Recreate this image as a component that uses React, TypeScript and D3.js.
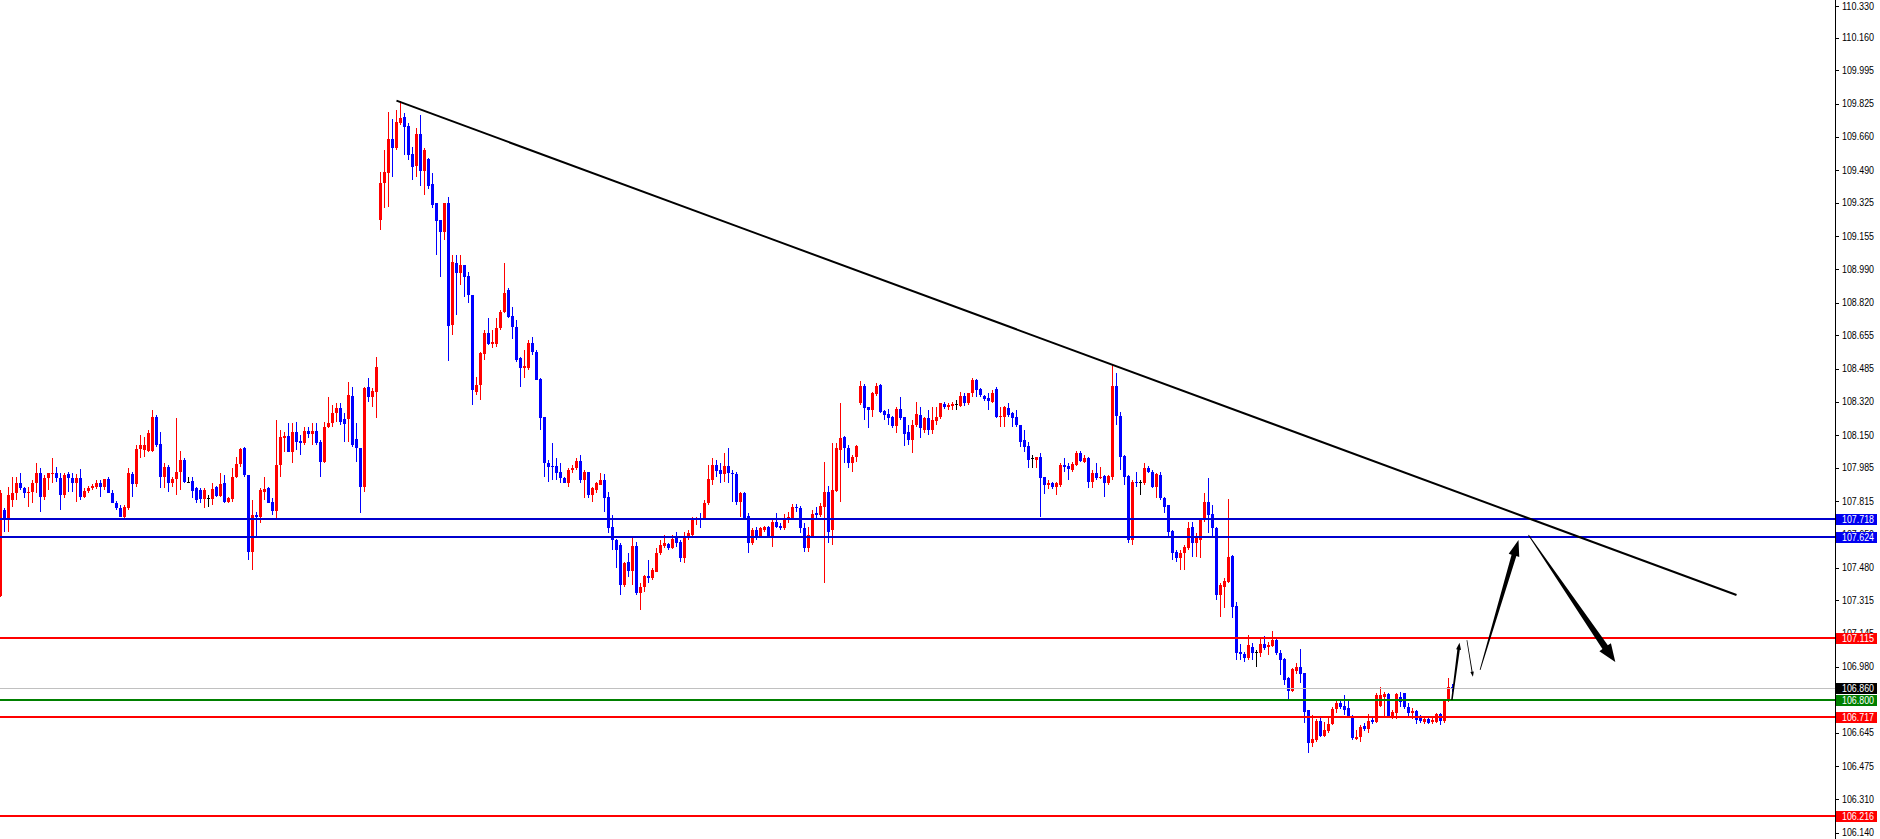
import React from "react";
import * as d3 from "d3";

// ---------- DATA (USDJPY-like candles) ----------
const opens = [
107.327,107.762,107.711,107.812,107.848,107.898,107.873,107.848,107.853,107.898,
107.949,107.827,107.923,107.944,107.949,107.923,107.838,107.944,107.923,107.898,
107.923,107.827,107.858,107.873,107.878,107.898,107.878,107.918,107.848,107.797,
107.772,107.727,107.772,107.944,107.893,108.070,108.065,108.060,108.060,108.232,
108.095,107.929,107.979,107.898,107.918,107.954,108.014,107.903,107.908,107.873,
107.863,107.817,107.822,107.817,107.878,107.832,107.898,107.802,107.817,107.929,
107.994,108.075,107.939,107.549,107.736,107.727,107.853,107.873,107.802,107.757,
107.989,108.126,108.136,108.055,108.156,108.111,108.101,108.161,108.146,108.161,
108.106,108.004,108.182,108.202,108.252,108.277,108.222,108.222,108.338,108.121,
108.075,107.878,108.383,108.333,108.358,109.228,109.415,109.465,109.637,109.592,
109.718,109.748,109.703,109.561,109.501,109.662,109.476,109.536,109.410,109.314,
109.228,109.167,109.314,108.697,109.011,108.960,109.000,108.945,108.849,108.358,
108.394,108.550,108.656,108.601,108.601,108.682,108.763,108.874,108.742,108.687,
108.530,108.479,108.479,108.606,108.560,108.424,108.232,107.999,107.984,107.984,
107.954,107.923,107.898,107.964,107.974,108.009,107.913,107.954,107.838,107.863,
107.888,107.913,107.827,107.676,107.610,107.585,107.383,107.499,107.453,107.580,
107.342,107.372,107.428,107.418,107.448,107.544,107.580,107.590,107.570,107.620,
107.600,107.519,107.625,107.636,107.716,107.721,107.716,107.797,107.913,107.989,
107.964,107.944,107.984,107.949,107.944,107.802,107.848,107.731,107.595,107.661,
107.625,107.661,107.676,107.625,107.701,107.681,107.671,107.716,107.721,107.777,
107.772,107.671,107.570,107.625,107.747,107.736,107.777,107.853,107.661,107.858,
108.065,108.131,108.075,107.999,108.029,108.303,108.389,108.282,108.267,108.348,
108.394,108.262,108.247,108.232,108.187,108.272,108.232,108.156,108.116,108.192,
108.242,108.166,108.227,108.166,108.212,108.232,108.298,108.282,108.288,108.298,
108.288,108.338,108.303,108.353,108.419,108.373,108.338,108.328,108.308,108.373,
108.232,108.232,108.277,108.252,108.232,108.192,108.116,108.085,108.024,108.014,
108.029,107.929,107.888,107.898,107.878,107.888,107.989,107.984,107.964,107.989,
108.050,108.004,108.024,107.903,107.949,107.923,107.934,107.898,107.929,108.389,
108.237,108.034,107.934,107.610,107.903,107.903,107.898,107.974,107.954,107.878,
107.939,107.822,107.787,107.656,107.549,107.519,107.544,107.570,107.676,107.595,
107.610,107.711,107.802,107.742,107.671,107.332,107.372,107.398,107.529,107.277,
107.044,107.034,107.013,107.069,107.044,107.039,107.084,107.069,107.074,107.104,
107.039,107.008,106.912,106.846,106.948,106.968,106.938,106.751,106.584,106.599,
106.695,106.619,106.644,106.680,106.756,106.786,106.771,106.761,106.716,106.604,
106.614,106.670,106.654,106.700,106.690,106.771,106.816,106.832,106.716,106.736,
106.816,106.837,106.766,106.736,106.746,106.710,106.690,106.705,106.690,106.690,
106.731,106.695,106.806,106.867];

const highs = [
107.863,107.772,107.878,107.929,107.929,107.949,107.878,107.878,107.913,107.999,
107.974,107.939,107.949,108.024,107.979,107.949,107.949,107.954,107.949,107.944,
107.969,107.873,107.883,107.893,107.913,107.913,107.918,107.929,107.863,107.807,
107.787,107.787,107.974,107.954,108.090,108.141,108.131,108.166,108.267,108.242,
108.156,107.999,107.989,107.929,108.227,108.060,108.024,107.929,107.929,107.878,
107.873,107.873,107.838,107.898,107.883,107.949,107.939,107.827,107.974,108.029,
108.075,108.080,107.939,107.812,107.752,107.873,107.929,107.878,107.822,108.217,
108.166,108.156,108.202,108.202,108.207,108.141,108.182,108.182,108.202,108.202,
108.116,108.207,108.333,108.293,108.303,108.303,108.252,108.409,108.383,108.202,
108.075,108.383,108.429,108.378,108.535,109.470,109.582,109.774,109.738,109.784,
109.829,109.769,109.718,109.597,109.693,109.758,109.592,109.541,109.465,109.314,
109.228,109.314,109.344,109.051,109.051,109.051,109.000,108.965,108.849,108.434,
108.560,108.672,108.732,108.672,108.732,108.773,109.011,108.884,108.788,108.722,
108.535,108.571,108.621,108.636,108.571,108.429,108.232,108.014,108.100,108.024,
107.999,107.929,107.974,107.989,108.024,108.040,107.964,107.954,107.878,107.903,
107.949,107.944,107.853,107.736,107.615,107.595,107.499,107.544,107.625,107.600,
107.392,107.433,107.509,107.468,107.570,107.610,107.636,107.595,107.636,107.651,
107.610,107.651,107.661,107.727,107.727,107.747,107.812,107.989,108.024,108.014,
107.999,108.050,108.075,107.964,107.954,107.853,107.853,107.747,107.671,107.676,
107.676,107.681,107.681,107.711,107.747,107.696,107.742,107.752,107.792,107.792,
107.782,107.696,107.676,107.762,107.777,107.797,108.004,107.883,108.100,108.100,
108.303,108.136,108.090,108.040,108.090,108.414,108.399,108.282,108.358,108.404,
108.399,108.267,108.272,108.237,108.282,108.333,108.232,108.192,108.217,108.308,
108.282,108.232,108.267,108.282,108.282,108.303,108.308,108.303,108.308,108.318,
108.358,108.353,108.353,108.429,108.424,108.378,108.343,108.353,108.368,108.383,
108.282,108.288,108.303,108.257,108.267,108.192,108.166,108.106,108.040,108.029,
108.050,107.929,107.913,107.903,107.903,107.999,108.024,107.999,108.004,108.060,
108.060,108.040,108.029,107.964,107.999,107.979,107.939,107.939,108.494,108.454,
108.257,108.040,107.939,107.913,107.954,107.913,107.999,107.984,107.964,107.949,
107.954,107.827,107.787,107.661,107.559,107.559,107.585,107.701,107.701,107.646,
107.721,107.848,107.923,107.787,107.676,107.393,107.418,107.817,107.534,107.297,
107.084,107.044,107.130,107.089,107.054,107.115,107.125,107.094,107.150,107.115,
107.054,107.013,106.917,106.963,106.988,107.059,106.938,106.751,106.726,106.705,
106.716,106.690,106.710,106.766,106.801,106.801,106.827,106.801,106.725,106.649,
106.675,106.685,106.731,106.710,106.837,106.867,106.841,106.837,106.751,106.837,
106.841,106.837,106.786,106.761,106.751,106.725,106.716,106.710,106.710,106.736,
106.736,106.806,106.912,106.882];

const lows = [
107.322,107.651,107.651,107.777,107.812,107.863,107.822,107.777,107.797,107.848,
107.752,107.812,107.863,107.898,107.903,107.762,107.822,107.853,107.853,107.802,
107.812,107.822,107.848,107.863,107.868,107.827,107.863,107.848,107.797,107.762,
107.727,107.721,107.762,107.827,107.878,108.024,108.029,108.055,108.055,108.080,
107.873,107.873,107.853,107.878,107.838,107.863,107.898,107.898,107.822,107.797,
107.797,107.772,107.777,107.787,107.827,107.827,107.797,107.797,107.802,107.923,
107.979,107.929,107.509,107.458,107.621,107.696,107.812,107.797,107.736,107.711,
107.929,108.055,108.055,107.999,108.065,108.040,108.090,108.126,108.090,108.090,
107.929,107.999,108.177,108.182,108.207,108.192,108.106,108.106,108.080,108.004,
107.746,107.853,108.308,108.282,108.227,109.177,109.288,109.293,109.445,109.582,
109.708,109.556,109.531,109.430,109.445,109.400,109.354,109.384,109.288,109.051,
108.940,109.127,108.515,108.646,108.747,108.899,108.838,108.808,108.293,108.343,
108.318,108.520,108.596,108.581,108.586,108.672,108.757,108.732,108.626,108.510,
108.383,108.429,108.469,108.545,108.419,108.166,107.929,107.903,107.913,107.913,
107.898,107.898,107.878,107.949,107.964,107.898,107.822,107.822,107.802,107.848,
107.888,107.752,107.646,107.559,107.468,107.332,107.372,107.423,107.383,107.332,
107.256,107.347,107.393,107.408,107.448,107.534,107.570,107.559,107.564,107.575,
107.499,107.494,107.610,107.625,107.686,107.671,107.711,107.787,107.888,107.929,
107.898,107.903,107.898,107.802,107.787,107.727,107.711,107.544,107.585,107.610,
107.620,107.651,107.620,107.575,107.671,107.661,107.661,107.696,107.716,107.752,
107.646,107.549,107.549,107.620,107.721,107.727,107.393,107.595,107.585,107.853,
107.802,107.999,107.974,107.954,108.004,108.293,108.217,108.177,108.232,108.338,
108.252,108.217,108.192,108.177,108.151,108.217,108.085,108.090,108.050,108.182,
108.126,108.151,108.141,108.146,108.192,108.222,108.272,108.267,108.267,108.267,
108.282,108.288,108.293,108.333,108.333,108.333,108.313,108.267,108.303,108.227,
108.182,108.182,108.232,108.182,108.182,108.080,108.055,107.974,107.974,107.974,
107.727,107.843,107.868,107.868,107.838,107.878,107.954,107.913,107.954,107.984,
108.004,107.999,107.873,107.873,107.913,107.918,107.827,107.888,107.913,108.192,
107.964,107.888,107.595,107.585,107.878,107.838,107.888,107.949,107.873,107.822,
107.812,107.746,107.625,107.509,107.499,107.458,107.458,107.559,107.524,107.524,
107.519,107.701,107.646,107.625,107.307,107.221,107.266,107.393,107.216,107.003,
107.003,106.993,107.003,107.003,106.968,107.018,107.054,107.029,107.069,107.029,
106.928,106.877,106.801,106.841,106.933,106.887,106.685,106.533,106.564,106.589,
106.614,106.614,106.634,106.675,106.736,106.756,106.725,106.716,106.599,106.599,
106.589,106.644,106.634,106.680,106.685,106.766,106.710,106.710,106.705,106.705,
106.766,106.756,106.716,106.705,106.680,106.685,106.680,106.680,106.680,106.685,
106.675,106.685,106.791,106.841];

const closes = [
107.848,107.711,107.838,107.848,107.898,107.873,107.848,107.853,107.898,107.949,
107.827,107.923,107.949,107.949,107.923,107.838,107.939,107.923,107.898,107.923,
107.827,107.858,107.873,107.883,107.898,107.878,107.918,107.848,107.797,107.772,
107.727,107.777,107.949,107.893,108.070,108.090,108.090,108.151,108.232,108.090,
107.929,107.979,107.898,107.918,107.954,108.014,107.903,107.903,107.858,107.812,
107.817,107.863,107.822,107.868,107.832,107.893,107.802,107.822,107.929,107.994,
108.070,107.939,107.549,107.736,107.727,107.863,107.868,107.797,107.757,107.989,
108.131,108.136,108.055,108.156,108.106,108.101,108.161,108.146,108.161,108.101,
108.004,108.182,108.202,108.252,108.277,108.207,108.197,108.343,108.090,108.075,
107.878,108.378,108.333,108.363,108.484,109.415,109.470,109.637,109.592,109.723,
109.743,109.698,109.556,109.496,109.662,109.476,109.582,109.400,109.303,109.223,
109.167,109.314,108.692,109.016,108.960,109.000,108.940,108.849,108.368,108.394,
108.555,108.656,108.601,108.611,108.682,108.763,108.859,108.737,108.687,108.520,
108.479,108.489,108.606,108.560,108.419,108.227,107.999,107.979,107.979,107.949,
107.923,107.898,107.964,107.974,108.009,107.913,107.954,107.838,107.873,107.898,
107.913,107.822,107.671,107.610,107.559,107.383,107.494,107.453,107.580,107.342,
107.372,107.428,107.418,107.458,107.544,107.585,107.595,107.570,107.615,107.595,
107.519,107.625,107.646,107.716,107.721,107.711,107.797,107.918,107.989,107.959,
107.944,107.984,107.949,107.944,107.802,107.848,107.721,107.595,107.661,107.625,
107.671,107.676,107.625,107.701,107.676,107.671,107.721,107.727,107.777,107.772,
107.671,107.570,107.636,107.742,107.736,107.782,107.853,107.651,107.863,108.075,
108.126,108.075,107.999,108.029,108.085,108.389,108.277,108.267,108.353,108.389,
108.257,108.242,108.227,108.187,108.272,108.227,108.146,108.116,108.192,108.247,
108.177,108.227,108.166,108.217,108.232,108.303,108.282,108.293,108.298,108.298,
108.338,108.303,108.353,108.419,108.368,108.343,108.323,108.313,108.353,108.232,
108.237,108.282,108.242,108.227,108.192,108.106,108.080,108.014,108.024,108.029,
107.923,107.888,107.898,107.878,107.898,107.989,107.979,107.969,107.994,108.050,
108.009,108.024,107.903,107.949,107.923,107.929,107.898,107.934,108.389,108.237,
108.029,107.929,107.610,107.903,107.898,107.903,107.974,107.954,107.878,107.944,
107.822,107.777,107.651,107.544,107.519,107.544,107.575,107.671,107.595,107.625,
107.711,107.802,107.736,107.671,107.332,107.383,107.403,107.524,107.272,107.039,
107.034,107.013,107.079,107.039,107.044,107.084,107.064,107.079,107.104,107.039,
107.003,106.902,106.846,106.958,106.968,106.933,106.741,106.584,106.604,106.695,
106.619,106.649,106.680,106.756,106.786,106.766,106.751,106.716,106.609,106.614,
106.665,106.654,106.695,106.690,106.827,106.827,106.832,106.716,106.741,106.832,
106.791,106.766,106.736,106.746,106.700,106.695,106.705,106.685,106.700,106.731,
106.695,106.806,106.867,106.860];

const priceTicks = [
  "110.330", "110.160", "109.995", "109.825", "109.660", "109.490", "109.325",
  "109.155", "108.990", "108.820", "108.655", "108.485", "108.320", "108.150",
  "107.985", "107.815", "107.650", "107.480", "107.315", "107.145", "106.980",
  "106.810", "106.645", "106.475", "106.310", "106.140",
];

const levelPrices = [107.718, 107.624, 107.115, 106.8, 106.717, 106.216];
const levelLabels = ["107.718", "107.624", "107.115", "106.800", "106.717", "106.216"];
const levelKinds = ["blue", "blue", "red", "green", "red", "red"];
const bidPrice = 106.86;
const bidLabel = "106.860";

const trendBars = [99, 434];
const trendPrices = [109.831, 107.332];

const arrowFromBars = [362.85, 366.6, 369.9, 382.0];
const arrowFromPrices = [106.801, 107.104, 106.953, 107.635];
const arrowToBars = [364.75, 368.1, 379.5, 403.7];
const arrowToPrices = [107.091, 106.919, 107.61, 106.993];

// ---------- STYLE ----------
const W = 1880;
const H = 839;
const AXIS_X = 1835;
const PX_PER_UNIT = 197.8;
const TOP_PRICE = 110.34;
const BULL = "#ff0000";
const BEAR = "#0000ff";
const LEVEL_STYLE: Record<string, { line: string; box: string }> = {
  blue: { line: "#0000cd", box: "#0000f0" },
  red: { line: "#ff0000", box: "#ff0000" },
  green: { line: "#008000", box: "#008000" },
};
const ARROW_SHAPES = [
  { w0: 1.5, w1: 2.5, hl: 7, hw: 5 },
  { w0: 0.7, w1: 1, hl: 5, hw: 3.5 },
  { w0: 0.8, w1: 5, hl: 16, hw: 11 },
  { w0: 0.8, w1: 6.5, hl: 18, hw: 14 },
];
const FONT = "'Liberation Sans', Arial, sans-serif";

function arrowPath(sx: number, sy: number, tx: number, ty: number, s: { w0: number; w1: number; hl: number; hw: number }) {
  const dx = tx - sx;
  const dy = ty - sy;
  const len = Math.hypot(dx, dy);
  const ux = dx / len;
  const uy = dy / len;
  const nx = -uy;
  const ny = ux;
  const bx = tx - ux * s.hl;
  const by = ty - uy * s.hl;
  const pts: [number, number][] = [
    [sx + (nx * s.w0) / 2, sy + (ny * s.w0) / 2],
    [bx + (nx * s.w1) / 2, by + (ny * s.w1) / 2],
    [bx + (nx * s.hw) / 2, by + (ny * s.hw) / 2],
    [tx, ty],
    [bx - (nx * s.hw) / 2, by - (ny * s.hw) / 2],
    [bx - (nx * s.w1) / 2, by - (ny * s.w1) / 2],
    [sx - (nx * s.w0) / 2, sy - (ny * s.w0) / 2],
  ];
  return (d3.line()(pts) || "") + "Z";
}

export default function App() {
  const x = d3.scaleLinear().domain([0, 1]).range([0.5, 4.5]);
  const y = d3
    .scaleLinear()
    .domain([TOP_PRICE - H / PX_PER_UNIT, TOP_PRICE])
    .range([H, 0]);

  const candles = opens.map((o, i) => {
    const c = closes[i];
    const hi = Math.max(highs[i], o, c);
    const lo = Math.min(lows[i], o, c);
    const color = c > o ? BULL : c < o ? BEAR : "#000000";
    const cx = x(i);
    const yo = Math.round(y(o));
    const yc = Math.round(y(c));
    const top = Math.min(yo, yc);
    const bh = Math.max(1, Math.abs(yo - yc));
    return (
      <g key={i}>
        <rect x={cx - 0.5} y={Math.round(y(hi))} width={1} height={Math.max(1, Math.round(y(lo)) - Math.round(y(hi)))} fill={color} />
        <rect x={cx - 1.5} y={top} width={3} height={bh} fill={color} />
      </g>
    );
  });

  return (
    <div style={{ position: "absolute", left: 0, top: 0, width: W, height: H, background: "#ffffff" }}>
      <svg width={W} height={H} style={{ display: "block" }}>
        <rect x={0} y={0} width={W} height={H} fill="#ffffff" />
        <g shapeRendering="crispEdges">{candles}</g>

        {/* bid line */}
        <rect x={0} y={Math.round(y(bidPrice))} width={AXIS_X} height={1} fill="#c0c0c0" shapeRendering="crispEdges" />

        {/* horizontal levels */}
        {levelPrices.map((p, k) => (
          <rect
            key={"lv" + k}
            x={0}
            y={Math.round(y(p)) - 1}
            width={AXIS_X}
            height={2}
            fill={LEVEL_STYLE[levelKinds[k]].line}
            shapeRendering="crispEdges"
          />
        ))}

        {/* trend line */}
        <line
          x1={x(trendBars[0])}
          y1={y(trendPrices[0])}
          x2={x(trendBars[1])}
          y2={y(trendPrices[1])}
          stroke="#000000"
          strokeWidth={2}
        />

        {/* arrows */}
        {arrowFromBars.map((b, k) => (
          <path
            key={"ar" + k}
            d={arrowPath(x(b), y(arrowFromPrices[k]), x(arrowToBars[k]), y(arrowToPrices[k]), ARROW_SHAPES[k])}
            fill="#000000"
          />
        ))}

        {/* price axis */}
        <rect x={AXIS_X} y={0} width={1} height={H} fill="#000000" shapeRendering="crispEdges" />
        {priceTicks.map((t) => {
          const ty = Math.max(6, y(+t) + 2);
          return (
            <g key={"t" + t}>
              <rect x={AXIS_X + 1} y={Math.round(ty)} width={3} height={1} fill="#000" shapeRendering="crispEdges" />
              <text
                x={AXIS_X + 7}
                y={ty}
                dominantBaseline="central"
                fontFamily={FONT}
                fontSize={10}
                textLength={32}
                lengthAdjust="spacingAndGlyphs"
                fill="#000"
              >
                {t}
              </text>
            </g>
          );
        })}

        {/* level boxes */}
        {[...levelPrices.map((p, k) => ({ p, label: levelLabels[k], bg: LEVEL_STYLE[levelKinds[k]].box })), { p: bidPrice, label: bidLabel, bg: "#000000" }].map(
          (b, k) => {
            const yc = Math.round(y(b.p));
            return (
              <g key={"bx" + k}>
                <rect x={AXIS_X + 1} y={yc - 5.5} width={41} height={11} fill={b.bg} shapeRendering="crispEdges" />
                <text
                  x={AXIS_X + 7}
                  y={yc + 0.5}
                  dominantBaseline="central"
                  fontFamily={FONT}
                  fontSize={10}
                  textLength={32}
                  lengthAdjust="spacingAndGlyphs"
                  fill="#ffffff"
                >
                  {b.label}
                </text>
              </g>
            );
          }
        )}
      </svg>
    </div>
  );
}
